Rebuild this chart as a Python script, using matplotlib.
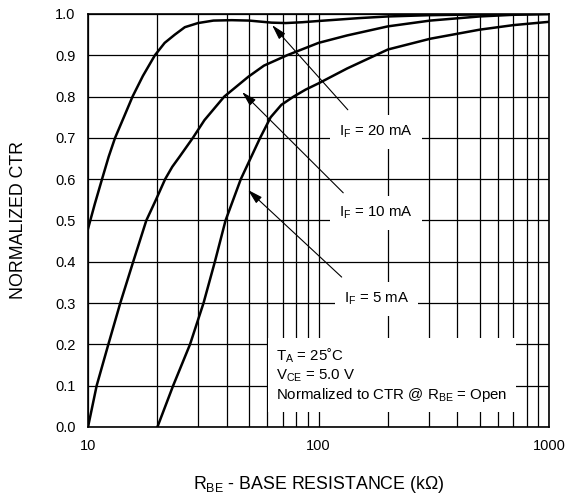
import numpy as np
import matplotlib
matplotlib.use("Agg")
import matplotlib.pyplot as plt
from matplotlib.ticker import LogLocator, FixedLocator, NullFormatter

plt.rcParams['font.family'] = ['Liberation Sans', 'DejaVu Sans']
plt.rcParams['mathtext.fontset'] = 'custom'
plt.rcParams['mathtext.rm'] = 'Liberation Sans'

# curves (R_BE in kOhm, normalized CTR)
r_20 = [10, 10.7, 11.5, 12.3, 13.1, 14.3, 15.6, 17.3, 19.5, 21.5, 23.8, 26.3, 30, 35, 42, 50,
        62.6, 72, 85, 100, 150, 200, 300, 500, 1000]
ctr_20 = [0.48, 0.54, 0.60, 0.655, 0.70, 0.75, 0.80, 0.85, 0.90, 0.93, 0.95, 0.968, 0.978, 0.984,
          0.985, 0.984, 0.979, 0.978, 0.980, 0.983, 0.990, 0.994, 0.997, 0.999, 1.0]

r_10 = [10, 10.9, 12.25, 13.8, 15.7, 17.9, 19.7, 21.6, 23.2, 25, 28.5, 32, 39, 49.6, 58, 73,
        100, 133, 200, 305, 500, 700, 1000]
ctr_10 = [0.0, 0.10, 0.20, 0.30, 0.40, 0.50, 0.55, 0.60, 0.63, 0.655, 0.70, 0.743, 0.80, 0.848, 0.875,
          0.90, 0.93, 0.948, 0.97, 0.984, 0.994, 0.998, 1.0]

r_5 = [20, 23.4, 27.7, 31.7, 35.5, 39.5, 46, 55.8, 62, 69, 78, 88, 100, 133, 200, 305, 500, 700, 1000]
ctr_5 = [0.0, 0.10, 0.20, 0.30, 0.40, 0.50, 0.60, 0.70, 0.75, 0.78, 0.80, 0.817, 0.832, 0.868,
         0.914, 0.94, 0.962, 0.973, 0.981]

labels = ['I$_\\mathregular{F}$ = 20 mA', 'I$_\\mathregular{F}$ = 10 mA', 'I$_\\mathregular{F}$ = 5 mA']
label_pos = [(178, 0.714), (178, 0.518), (178, 0.31)]
arrow_tail = [(134, 0.768), (128, 0.567), (126, 0.363)]
arrow_tip = [(62.9, 0.973), (46.6, 0.811), (49.4, 0.574)]

fig = plt.figure(figsize=(5.69, 4.99), dpi=100)
ax = fig.add_axes([0.1547, 0.1443, 0.8102, 0.8277])

ax.set_xscale('log')
ax.set_xlim(10, 1000)
ax.set_ylim(0, 1.0)

ax.xaxis.set_major_locator(FixedLocator([10, 100, 1000]))
ax.xaxis.set_minor_locator(LogLocator(base=10, subs=np.arange(2, 10)))
ax.xaxis.set_minor_formatter(NullFormatter())
ax.set_xticklabels(['10', '100', '1000'])
ax.set_yticks(np.arange(0, 1.01, 0.1))
ax.set_yticklabels([f'{v:.1f}' for v in np.arange(0, 1.01, 0.1)])

ax.grid(True, which='both', axis='x', color='black', lw=0.9)
ax.grid(True, which='major', axis='y', color='black', lw=0.9)
ax.tick_params(which='both', length=0, labelsize=10.5)
ax.tick_params(axis='x', pad=9)
ax.tick_params(axis='y', pad=9)
for s in ax.spines.values():
    s.set_linewidth(1.2)

for r, c in [(r_20, ctr_20), (r_10, ctr_10), (r_5, ctr_5)]:
    ax.plot(r, c, color='black', lw=1.8, zorder=3, solid_joinstyle='round')

for lab, pos, tail, tip in zip(labels, label_pos, arrow_tail, arrow_tip):
    ax.text(pos[0], pos[1], lab, fontsize=10.8, ha='center', va='center', zorder=4,
            bbox=dict(boxstyle='square,pad=0.6', fc='white', ec='none'))
    ax.annotate('', xy=tip, xytext=tail, zorder=4,
                arrowprops=dict(arrowstyle='-|>,head_length=0.9,head_width=0.25',
                                color='black', lw=0.8, shrinkA=0, shrinkB=0))

ax.text(65.5, 0.126, 'T$_\\mathregular{A}$ = 25˚C\nV$_\\mathregular{CE}$ = 5.0 V\n'
        'Normalized to CTR @ R$_\\mathregular{BE}$ = Open',
        fontsize=10.8, ha='left', va='center', linespacing=1.15, zorder=4,
        bbox=dict(boxstyle='square,pad=0.55', fc='white', ec='none'))

ax.set_ylabel('NORMALIZED CTR', fontsize=12.8, labelpad=20)
ax.set_xlabel('R$_\\mathregular{BE}$ - BASE RESISTANCE (kΩ)', fontsize=12.8, labelpad=15)

fig.savefig('out.png', dpi=100)
